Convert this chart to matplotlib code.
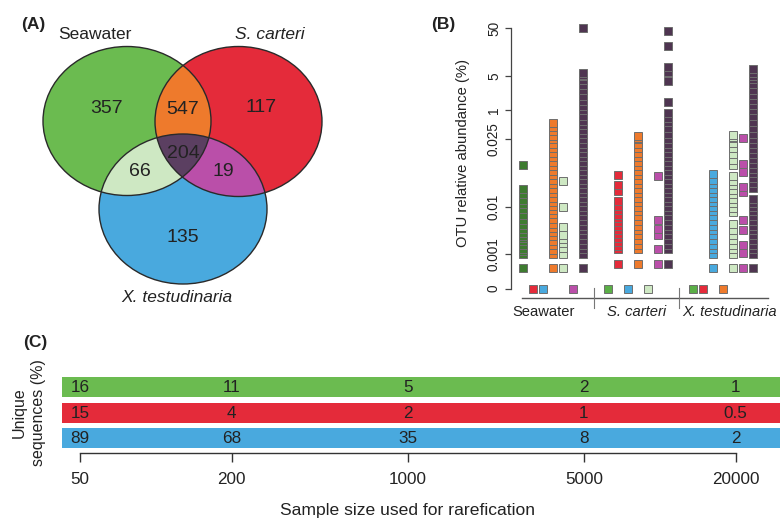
import numpy as np
import matplotlib.pyplot as plt
from matplotlib.patches import Ellipse, Polygon
import matplotlib.transforms as mtransforms

plt.rcParams["font.family"] = ["Liberation Sans", "DejaVu Sans"]

# ---- (A) OTU overlap between sample types ----
set_names = ["Seawater", "S. carteri", "X. testudinaria"]
region_keys = ["sw_only", "sc_only", "xt_only", "sw_sc", "sw_xt", "sc_xt", "core"]
region_counts = [357, 117, 135, 547, 66, 19, 204]

# ---- (B) relative abundance (%) of each OTU group inside each sample type ----
abund_seawater = {
    "sw_only": [0.0006, 0.001, 0.0015, 0.002, 0.0028, 0.0035, 0.004, 0.0045, 0.005, 0.0058,
                0.0065, 0.0075, 0.0085, 0.0095, 0.0105, 0.0115, 0.0128, 0.014, 0.0193],
    "sc_only": [0],
    "xt_only": [0],
    "sw_sc": [0.0006, 0.001, 0.0018, 0.0027, 0.0035, 0.0044, 0.0052, 0.006, 0.0068, 0.0077,
              0.0086, 0.0094, 0.0102, 0.011, 0.012, 0.013, 0.014, 0.015, 0.016, 0.017, 0.018,
              0.019, 0.02, 0.021, 0.022, 0.023, 0.024, 0.025, 0.15, 0.3, 0.45, 0.57],
    "sw_xt": [0.0006, 0.001, 0.0022, 0.003, 0.0038, 0.0046, 0.0061, 0.01, 0.0158],
    "sc_xt": [0],
    "core": [0.0006, 0.001, 0.0019, 0.0028, 0.0037, 0.0046, 0.0055, 0.0064, 0.0073, 0.0082,
             0.0091, 0.01, 0.011, 0.012, 0.013, 0.014, 0.015, 0.016, 0.017, 0.018, 0.019,
             0.02, 0.021, 0.022, 0.023, 0.024, 0.025, 0.2, 0.35, 0.5, 0.65, 0.8, 1.0, 1.5,
             2.1, 2.7, 3.3, 3.9, 4.5, 5.0, 6.2, 7.5, 50],
}
abund_carteri = {
    "sw_only": [0],
    "sc_only": [0.00072, 0.00195, 0.0025, 0.0033, 0.004, 0.0048, 0.0055, 0.0063, 0.007, 0.0078,
                0.0085, 0.0093, 0.0102, 0.0112, 0.0134, 0.0149, 0.0171],
    "xt_only": [0],
    "sw_sc": [0.00072, 0.00195, 0.0028, 0.0037, 0.0046, 0.0055, 0.0064, 0.0073, 0.0082, 0.0091,
              0.01, 0.011, 0.012, 0.013, 0.014, 0.015, 0.016, 0.017, 0.018, 0.019, 0.02, 0.021,
              0.022, 0.023, 0.024, 0.025, 0.08, 0.135],
    "sw_xt": [0],
    "sc_xt": [0.00072, 0.00195, 0.0046, 0.0057, 0.0074, 0.0168],
    "core": [0.00072, 0.00195, 0.0028, 0.0037, 0.0046, 0.0055, 0.0064, 0.0073, 0.0082, 0.0091,
             0.01, 0.011, 0.012, 0.013, 0.014, 0.015, 0.016, 0.017, 0.018, 0.019, 0.02, 0.021,
             0.022, 0.023, 0.024, 0.025, 0.2, 0.4, 0.6, 0.75, 0.9, 1.9, 4.45, 9.1, 13.2, 33.3,
             47.5],
}
abund_testudinaria = {
    "sw_only": [0],
    "sc_only": [0],
    "xt_only": [0.0006, 0.001, 0.0019, 0.0028, 0.0037, 0.0046, 0.0055, 0.0064, 0.0073, 0.0082,
                0.0091, 0.01, 0.011, 0.012, 0.013, 0.014, 0.015, 0.016, 0.0173],
    "sw_sc": [0],
    "sw_xt": [0.0006, 0.001, 0.0019, 0.0028, 0.0037, 0.0046, 0.0055, 0.0068, 0.0089, 0.0098,
              0.0108, 0.0118, 0.0128, 0.0138, 0.0148, 0.0158, 0.0168, 0.0193, 0.0205, 0.0218,
              0.023, 0.0242, 0.06, 0.11, 0.158],
    "sc_xt": [0.0006, 0.00113, 0.00277, 0.0056, 0.0075, 0.0133, 0.0144, 0.0178, 0.0194, 0.068],
    "core": [0.0006, 0.001, 0.0019, 0.0028, 0.0037, 0.0046, 0.0055, 0.0064, 0.0073, 0.0082,
             0.0091, 0.01, 0.0109, 0.0118, 0.0142, 0.0152, 0.0163, 0.0174, 0.0185, 0.0196,
             0.0207, 0.0218, 0.0229, 0.024, 0.025, 0.2, 0.4, 0.6, 0.8, 1.0, 1.6, 2.2, 2.8,
             3.4, 4.0, 4.6, 5.0, 8.0, 11.5],
}
abund_ticks = [0, 0.001, 0.01, 0.025, 1, 5, 50]
abund_ticklabels = ["0", "0.001", "0.01", "0.025", "1", "5", "50"]

# ---- (C) unique sequences (%) after rarefaction ----
sample_sizes = [50, 200, 1000, 5000, 20000]
unique_seawater = [16, 11, 5, 2, 1]
unique_carteri = [15, 4, 2, 1, 0.5]
unique_testudinaria = [89, 68, 35, 8, 2]

venn_colors = {"sw_only": "#6BBB50", "sc_only": "#E42B3A", "xt_only": "#49A9DE",
               "sw_sc": "#EE7A2C", "sw_xt": "#CEE8C3", "sc_xt": "#BA4FA9", "core": "#5B3F61"}
b_colors = dict(venn_colors, sw_only="#3E7B30", core="#4F3551")
b_zero_green = "#5BAF47"
txt = "#222222"

W, H = 780, 519
fig = plt.figure(figsize=(W / 100, H / 100), dpi=100)


def box(x0, y0, x1, y1):
    # pixel box with top-left origin -> figure fraction rect
    return [x0 / W, 1 - y1 / H, (x1 - x0) / W, (y1 - y0) / H]


def fpos(x, y):
    return x / W, 1 - y / H


# ======================= (A) Venn =======================
ax_a = fig.add_axes(box(0, 0, 340, 330))
ax_a.set_xlim(0, 340)
ax_a.set_ylim(330, 0)
ax_a.axis("off")

ell_geo = [((127, 121), 168, 149), ((238.5, 121.5), 167, 150), ((183, 209), 168, 150)]


def make_ell(i, **kw):
    c, w, h = ell_geo[i]
    return Ellipse(c, w, h, transform=ax_a.transData, **kw)


# single-set fills
for i, key in enumerate(["sw_only", "sc_only", "xt_only"]):
    ax_a.add_patch(make_ell(i, fc=venn_colors[key], ec="none", zorder=1))

# pairwise overlaps: one ellipse clipped by the other
for (i, j), key in zip([(1, 0), (2, 0), (2, 1)], ["sw_sc", "sw_xt", "sc_xt"]):
    p = make_ell(i, fc=venn_colors[key], ec="none", zorder=2)
    ax_a.add_patch(p)
    p.set_clip_path(make_ell(j))


def on_boundary(i, n=1440):
    c, w, h = ell_geo[i]
    t = np.linspace(0, 2 * np.pi, n, endpoint=False)
    return np.column_stack([c[0] + w / 2 * np.cos(t), c[1] + h / 2 * np.sin(t)])


def inside(i, pts):
    c, w, h = ell_geo[i]
    return ((pts[:, 0] - c[0]) / (w / 2)) ** 2 + ((pts[:, 1] - c[1]) / (h / 2)) ** 2 <= 1 + 1e-9


# triple overlap is convex: collect boundary points lying in the other two sets
core_pts = []
for i in range(3):
    b = on_boundary(i)
    m = np.ones(len(b), bool)
    for j in range(3):
        if j != i:
            m &= inside(j, b)
    core_pts.append(b[m])
core_pts = np.vstack(core_pts)
ctr = core_pts.mean(axis=0)
core_pts = core_pts[np.argsort(np.arctan2(core_pts[:, 1] - ctr[1], core_pts[:, 0] - ctr[0]))]
ax_a.add_patch(Polygon(core_pts, closed=True, fc=venn_colors["core"], ec="none", zorder=3))

for i in range(3):
    ax_a.add_patch(make_ell(i, fill=False, ec="#2a2a2a", lw=1.0, zorder=4))

count_xy = [(106.7, 108.5), (260.7, 107), (182.7, 237), (182.7, 110), (140, 172),
            (223.3, 172), (183.3, 153.5)]
for (x, y), n in zip(count_xy, region_counts):
    ax_a.text(x, y, str(n), ha="center", va="center", fontsize=14, color=txt, zorder=5)

ax_a.text(95, 34.5, set_names[0], ha="center", va="center", fontsize=12.5, color=txt)
ax_a.text(269.5, 34.5, set_names[1], ha="center", va="center", fontsize=12.5,
          style="italic", color=txt)
ax_a.text(176.7, 297, set_names[2], ha="center", va="center", fontsize=12.5,
          style="italic", color=txt)
fig.text(*fpos(33.5, 25), "(A)", ha="center", va="center", fontsize=12.5,
         fontweight="bold", color=txt)

# ======================= (B) abundance strips =======================
y_top, y_zero = 28.3, 288.7
ax_b = fig.add_axes(box(510.7, y_top, 780, y_zero))

# piecewise axis: fixed room for each labelled band
knot_pos = [0, 34.7, 82.0, 149.4, 178.7, 212.7, 260.4]


def fwd(v):
    return np.interp(v, abund_ticks, knot_pos)


def inv(p):
    return np.interp(p, knot_pos, abund_ticks)


ax_b.set_yscale("function", functions=(fwd, inv))
ax_b.set_ylim(0, 50)
ax_b.set_xlim(-1.2, 25.73)

group_data = [abund_seawater, abund_carteri, abund_testudinaria]
group_step = 8.5
for g, data in enumerate(group_data):
    for k, key in enumerate(region_keys):
        vals = np.asarray(data[key], dtype=float)
        col = b_colors[key]
        if key == "sw_only" and np.all(vals == 0):
            col = b_zero_green
        ax_b.plot(np.full(len(vals), g * group_step + k), vals, ls="none", marker="s",
                  ms=5.5, mfc=col, mec="#6e6e6e", mew=0.7, clip_on=False, zorder=3)

for s in ["top", "right", "bottom"]:
    ax_b.spines[s].set_visible(False)
ax_b.spines["left"].set_color("#444444")
ax_b.spines["left"].set_linewidth(0.9)
ax_b.set_xticks([])
ax_b.set_yticks(abund_ticks)
ax_b.set_yticklabels(abund_ticklabels, rotation=90, va="center")
ax_b.yaxis.set_minor_locator(plt.NullLocator())
ax_b.tick_params(axis="y", length=4, width=0.9, color="#444444", pad=3,
                 labelsize=9.8, labelcolor=txt)

# group axis underneath the strips
trans_b = mtransforms.blended_transform_factory(ax_b.transData, ax_b.transAxes)
h_b = y_zero - y_top


def ay(py):
    return (y_zero - py) / h_b


ax_b.plot([-0.1, 24.5], [ay(298.3), ay(298.3)], color="#555555", lw=1.0,
          transform=trans_b, clip_on=False)
for sx in [7.16, 15.66]:
    ax_b.plot([sx, sx], [ay(288), ay(308)], color="#777777", lw=0.8,
              transform=trans_b, clip_on=False)
for g, name in enumerate(set_names):
    ax_b.text([2.06, 11.4, 20.7][g], ay(312.5), name, transform=trans_b, ha="center",
              va="center", fontsize=10.6, color=txt,
              style="normal" if g == 0 else "italic", clip_on=False)

fig.text(*fpos(463, 153), "OTU relative abundance (%)", rotation=90, ha="center",
         va="center", fontsize=10.6, color=txt)
fig.text(*fpos(443, 25), "(B)", ha="center", va="center", fontsize=12.5,
         fontweight="bold", color=txt)

# ======================= (C) rarefaction =======================
ax_c = fig.add_axes(box(62, 372, 780, 453))
ax_c.set_xscale("log")
xl = (42.45, 29975)
ax_c.set_xlim(*xl)
ax_c.set_ylim(-0.59, 2.6)

rows = [unique_seawater, unique_carteri, unique_testudinaria]
row_colors = [venn_colors["sw_only"], venn_colors["sc_only"], venn_colors["xt_only"]]
for r, (vals, col) in enumerate(zip(rows, row_colors)):
    yy = 2 - r
    ax_c.barh(yy, xl[1] - xl[0], left=xl[0], height=0.79, color=col, edgecolor="none")
    for n, v in zip(sample_sizes, vals):
        ax_c.text(n, yy - 0.03, f"{v:g}", ha="center", va="center", fontsize=12.3,
                  color=txt)

for s in ["top", "right", "left"]:
    ax_c.spines[s].set_visible(False)
ax_c.spines["bottom"].set_bounds(sample_sizes[0], sample_sizes[-1])
ax_c.spines["bottom"].set_color("#333333")
ax_c.spines["bottom"].set_linewidth(1.0)
ax_c.set_yticks([])
ax_c.set_xticks(sample_sizes)
ax_c.set_xticklabels([str(n) for n in sample_sizes])
ax_c.xaxis.set_minor_locator(plt.NullLocator())
ax_c.tick_params(axis="x", direction="out", length=6.5, width=1.0, color="#333333",
                 pad=7, labelsize=12.3, labelcolor=txt)

fig.text(*fpos(408, 510), "Sample size used for rarefication", ha="center", va="center",
         fontsize=12.6, color=txt)
fig.text(*fpos(19, 413), "Unique", rotation=90, ha="center", va="center",
         fontsize=11.5, color=txt)
fig.text(*fpos(38, 413), "sequences (%)", rotation=90, ha="center", va="center",
         fontsize=11.5, color=txt)
fig.text(*fpos(35, 343), "(C)", ha="center", va="center", fontsize=12.5,
         fontweight="bold", color=txt)

fig.savefig("out.png", dpi=100)
